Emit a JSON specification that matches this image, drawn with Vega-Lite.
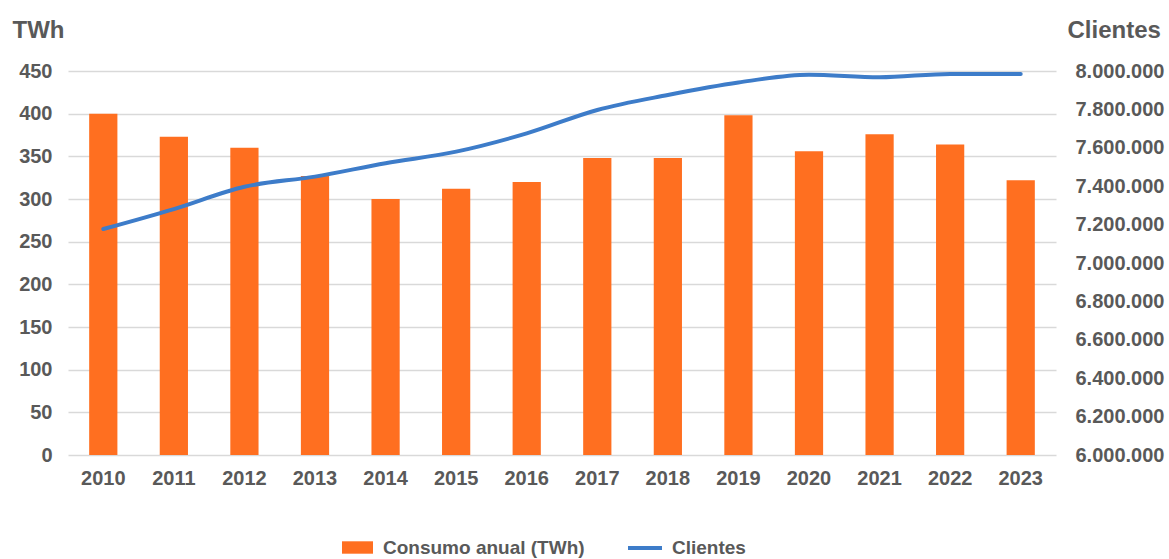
{
  "$schema": "https://vega.github.io/schema/vega-lite/v6.json",
  "width": 988,
  "height": 384,
  "autosize": "none",
  "padding": {"left": 68, "top": 71, "right": 113, "bottom": 104},
  "background": "white",
  "config": {
    "view": {"stroke": null},
    "font": "Liberation Sans",
    "axis": {
      "labelFont": "Liberation Sans",
      "labelFontSize": 20,
      "labelFontWeight": "bold",
      "labelColor": "#595959",
      "titleFont": "Liberation Sans",
      "titleFontSize": 24,
      "titleFontWeight": "bold",
      "titleColor": "#595959",
      "ticks": false,
      "tickSize": 0,
      "domain": false,
      "gridColor": "#d9d9d9",
      "gridWidth": 1.3
    },
    "legend": {
      "labelFont": "Liberation Sans",
      "labelFontSize": 19,
      "labelFontWeight": "bold",
      "labelColor": "#595959",
      "labelLimit": 0
    }
  },
  "data": {
    "values": [
      {"year": "2010", "consumo": 400, "clientes": 7177000},
      {"year": "2011", "consumo": 373, "clientes": 7281000},
      {"year": "2012", "consumo": 360, "clientes": 7397000},
      {"year": "2013", "consumo": 327, "clientes": 7450000},
      {"year": "2014", "consumo": 300, "clientes": 7520000},
      {"year": "2015", "consumo": 312, "clientes": 7580000},
      {"year": "2016", "consumo": 320, "clientes": 7675000},
      {"year": "2017", "consumo": 348, "clientes": 7797000},
      {"year": "2018", "consumo": 348, "clientes": 7875000},
      {"year": "2019", "consumo": 398, "clientes": 7940000},
      {"year": "2020", "consumo": 356, "clientes": 7980000},
      {"year": "2021", "consumo": 376, "clientes": 7967000},
      {"year": "2022", "consumo": 364, "clientes": 7985000},
      {"year": "2023", "consumo": 322, "clientes": 7985000}
    ]
  },
  "encoding": {
    "x": {
      "field": "year",
      "type": "ordinal",
      "scale": {"paddingInner": 0.6, "paddingOuter": 0.3},
      "axis": {"title": null, "labelAngle": 0, "labelPadding": 13, "grid": false}
    }
  },
  "layer": [
    {
      "mark": {"type": "bar"},
      "encoding": {
        "y": {
          "field": "consumo",
          "type": "quantitative",
          "scale": {"domain": [0, 450], "nice": false},
          "axis": {
            "title": "TWh",
            "titleAngle": 0,
            "titleAlign": "left",
            "titleBaseline": "alphabetic",
            "titleX": -56,
            "titleY": -34,
            "values": [0, 50, 100, 150, 200, 250, 300, 350, 400, 450],
            "labelPadding": 16,
            "grid": true
          }
        },
        "fill": {
          "datum": "Consumo anual (TWh)",
          "type": "nominal",
          "scale": {"range": ["#FF6F20"]},
          "legend": {
            "title": null,
            "orient": "none",
            "legendX": 274,
            "legendY": 461,
            "symbolType": "M-1,-0.4H1V0.4H-1Z",
            "symbolSize": 961,
            "symbolStrokeWidth": 0,
            "labelOffset": 10
          }
        }
      }
    },
    {
      "mark": {"type": "line", "interpolate": "monotone", "strokeWidth": 4, "strokeCap": "round"},
      "encoding": {
        "y": {
          "field": "clientes",
          "type": "quantitative",
          "scale": {"domain": [6000000, 8000000], "nice": false, "zero": false},
          "axis": {
            "orient": "right",
            "title": "Clientes",
            "titleAngle": 0,
            "titleAlign": "left",
            "titleBaseline": "alphabetic",
            "titleX": 11,
            "titleY": -34,
            "values": [6000000, 6200000, 6400000, 6600000, 6800000, 7000000, 7200000, 7400000, 7600000, 7800000, 8000000],
            "labelExpr": "replace(format(datum.value, ','), regexp(',', 'g'), '.')",
            "labelPadding": 19,
            "grid": false
          }
        },
        "stroke": {
          "datum": "Clientes",
          "type": "nominal",
          "scale": {"range": ["#3D7CC9"]},
          "legend": {
            "title": null,
            "orient": "none",
            "legendX": 558,
            "legendY": 458,
            "symbolType": "stroke",
            "symbolSize": 1156,
            "symbolStrokeWidth": 4,
            "labelOffset": 8
          }
        }
      }
    }
  ],
  "resolve": {"scale": {"y": "independent"}}
}
